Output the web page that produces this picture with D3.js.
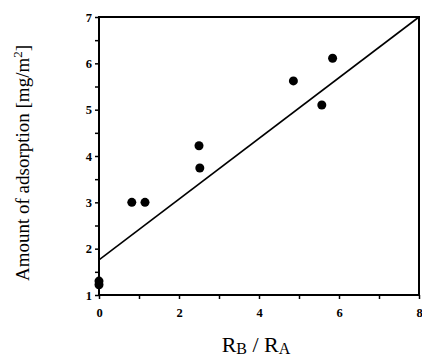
<!DOCTYPE html>
<html lang="en">
<head>
    <meta charset="UTF-8">
    <title>Adsorption vs RB/RA</title>
    <script src="https://d3js.org/d3.v7.min.js"></script>
    <style>
        body { margin: 0; background: #fff; }
        text { font-family: "Liberation Serif", "DejaVu Serif", serif; fill: #000; }
    </style>
</head>
<body>
    <div id="chart-container"></div>
    <script>
        // measured points (x = RB/RA, y = adsorption)
        const ratio = [0, 0, 0.82, 1.15, 2.5, 2.52, 4.86, 5.57, 5.84];
        const adsorption = [1.22, 1.3, 3.0, 3.0, 4.22, 3.74, 5.62, 5.1, 6.11];
        // fitted line end points
        const fitX = [0, 8];
        const fitY = [1.76, 7];
        const xTicks = [0, 2, 4, 6, 8];
        const yTicks = [1, 2, 3, 4, 5, 6, 7];

        const containerWidth = 422;
        const containerHeight = 357;
        const margins = { top: 17, right: 4, bottom: 62, left: 99 };
        const width = 320;
        const height = 278;

        const svg = d3.select("#chart-container")
            .append("svg")
            .attr("width", containerWidth)
            .attr("height", containerHeight);

        const g = svg.append("g")
            .attr("transform", `translate(${margins.left},${margins.top})`);

        const x = d3.scaleLinear().domain([0, 8]).range([0, width]);
        const y = d3.scaleLinear().domain([1, 7]).range([height, 0]);

        // frame
        g.append("rect")
            .attr("width", width)
            .attr("height", height)
            .attr("fill", "none")
            .attr("stroke", "#000")
            .attr("stroke-width", 2);

        const xAxis = g.append("g")
            .attr("transform", `translate(0,${height})`)
            .call(d3.axisBottom(x).ticks(8).tickSize(4).tickFormat(d => xTicks.includes(d) ? d : ""));
        const yAxis = g.append("g")
            .call(d3.axisLeft(y).tickValues(d3.range(1, 7.01, 0.5)).tickSize(4)
                .tickFormat(d => yTicks.includes(d) ? d : ""));

        [xAxis, yAxis].forEach(a => {
            a.select(".domain").remove();
            a.selectAll("line").attr("stroke", "#000").attr("stroke-width", 1.5);
            a.selectAll("text")
                .style("font-family", "'Liberation Serif', serif")
                .style("font-weight", "bold")
                .style("font-size", "12.5px");
        });
        xAxis.selectAll("text").attr("dy", "1.2em");
        yAxis.selectAll("text").attr("x", -7);

        // fit line
        g.append("line")
            .attr("x1", x(fitX[0])).attr("y1", y(fitY[0]))
            .attr("x2", x(fitX[1])).attr("y2", y(fitY[1]))
            .attr("stroke", "#000")
            .attr("stroke-width", 1.6);

        g.selectAll("circle")
            .data(ratio)
            .join("circle")
            .attr("cx", d => x(d))
            .attr("cy", (d, i) => y(adsorption[i]))
            .attr("r", 4.5)
            .attr("fill", "#000");

        // axis titles
        svg.append("text")
            .attr("transform", "translate(29,163) rotate(-90)")
            .attr("text-anchor", "middle")
            .style("font-size", "19px")
            .html('Amount of adsorption [mg/m<tspan dy="-7" font-size="13px">2</tspan><tspan dy="7">]</tspan>');

        svg.append("text")
            .attr("x", 256)
            .attr("y", 352)
            .attr("text-anchor", "middle")
            .style("font-size", "22px")
            .html('R<tspan font-size="16px" dy="2">B</tspan><tspan dy="-2"> / R</tspan><tspan font-size="16px" dy="2">A</tspan>');
    </script>
</body>
</html>
